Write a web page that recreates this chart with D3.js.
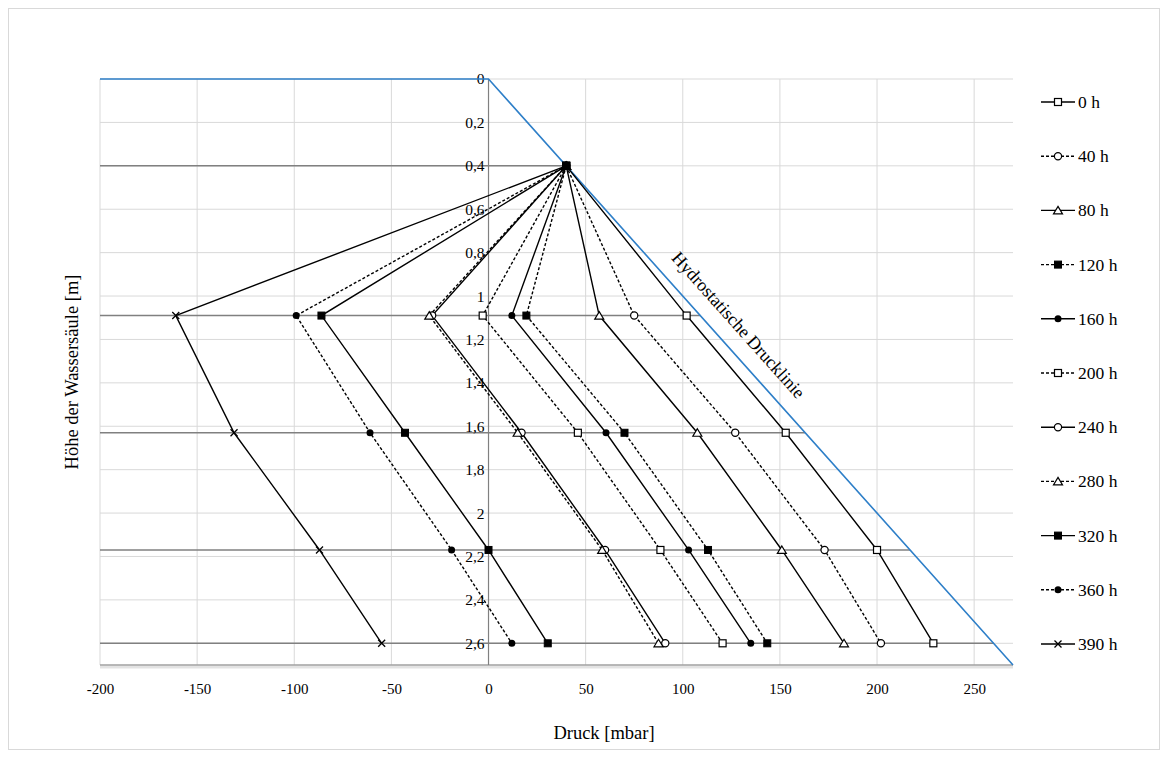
<!DOCTYPE html>
<html><head><meta charset="utf-8">
<script src="https://cdn.jsdelivr.net/npm/d3@7"></script>
<style>body{margin:0;background:#fff;}svg{display:block;}text{font-family:"Liberation Serif","Times New Roman",serif;fill:#000;}</style>
</head><body>
<svg id="chart" width="1169" height="758"></svg>
<script>
// ---- data ----
const heights = [0.4, 1.09, 1.63, 2.17, 2.6];
const seriesNames = ["0 h","40 h","80 h","120 h","160 h","200 h","240 h","280 h","320 h","360 h","390 h"];
const s0h   = [40, 102, 153, 200, 229];
const s40h  = [40, 75, 127, 173, 202];
const s80h  = [40, 57, 107.5, 151, 183];
const s120h = [40, 19.5, 70, 113, 143.5];
const s160h = [40, 12, 60.5, 103, 135];
const s200h = [40, -3, 46, 88.5, 120.5];
const s240h = [40, -29, 17, 60, 91];
const s280h = [40, -30.5, 15, 58.5, 87.5];
const s320h = [40, -86, -43, 0, 30.5];
const s360h = [40, -99, -61, -19, 12];
const s390h = [40, -161, -131, -87, -55];
const seriesValues = [s0h,s40h,s80h,s120h,s160h,s200h,s240h,s280h,s320h,s360h,s390h];
const markerTypes = ["sqOpen","cirOpen","triOpen","sqFill","cirFill","sqOpen","cirOpen","triOpen","sqFill","cirFill","cross"];
const dashed = [false,true,false,true,false,true,false,true,false,true,false];
const hydroP = [-200, 0, 270];
const hydroH = [0, 0, 2.7];
const levelH = [0.4, 1.09, 1.63, 2.17, 2.6];
const levelEnd = [40, 109, 163, 217, 260];
const xTicks = [-200,-150,-100,-50,0,50,100,150,200,250];
const yTicks = [0,0.2,0.4,0.6,0.8,1,1.2,1.4,1.6,1.8,2,2.2,2.4,2.6];
const hydroLabel = "Hydrostatische Drucklinie";

// ---- layout ----
const FONT = '"Liberation Serif","Times New Roman",serif';
const svg = d3.select("#chart");
const L = 100, R = 1013, T = 79, B = 665;
const x = d3.scaleLinear().domain([-200, 270]).range([L, R]);
const y = d3.scaleLinear().domain([0, 2.7]).range([T, B]);
const fmt = v => String(v).replace(".", ",");

svg.append("rect").attr("x",8.5).attr("y",8.5).attr("width",1151).attr("height",741)
  .attr("fill","none").attr("stroke","#d9d9d9");

// gridlines
svg.append("g").selectAll("line").data(xTicks).join("line")
  .attr("x1",d=>x(d)).attr("x2",d=>x(d)).attr("y1",T).attr("y2",B)
  .attr("stroke","#d9d9d9").attr("stroke-width",1);
svg.append("g").selectAll("line").data(yTicks).join("line")
  .attr("x1",L).attr("x2",R).attr("y1",d=>y(d)).attr("y2",d=>y(d))
  .attr("stroke","#d9d9d9").attr("stroke-width",1);

// bottom axis line with shadow
svg.append("line").attr("x1",L).attr("x2",R).attr("y1",B+2).attr("y2",B+2).attr("stroke","#e3e3e3").attr("stroke-width",3);
svg.append("line").attr("x1",L).attr("x2",R).attr("y1",B).attr("y2",B).attr("stroke","#a0a0a0").attr("stroke-width",1.5);

// y axis at x = 0
svg.append("line").attr("x1",x(0)).attr("x2",x(0)).attr("y1",T).attr("y2",B).attr("stroke","#808080").attr("stroke-width",1.2);

// level lines
svg.append("g").selectAll("line").data(levelH).join("line")
  .attr("x1",L).attr("x2",(d,i)=>x(levelEnd[i])).attr("y1",d=>y(d)).attr("y2",d=>y(d))
  .attr("stroke","#808080").attr("stroke-width",1.5);

// axis tick labels
const xAxis = d3.axisBottom(x).tickValues(xTicks).tickSize(0).tickPadding(18).tickFormat(d=>String(d));
const gx = svg.append("g").attr("transform",`translate(0,${B})`).call(xAxis);
gx.select(".domain").remove();
gx.selectAll("text").style("font-size","15px").style("font-family",FONT);

const yAxis = d3.axisLeft(y).tickValues(yTicks).tickSize(0).tickPadding(4).tickFormat(fmt);
const gy = svg.append("g").attr("transform",`translate(${x(0)},0)`).call(yAxis);
gy.select(".domain").remove();
gy.selectAll("text").style("font-size","15.5px").style("font-family",FONT);

// hydrostatic line
const hydroLine = d3.line().x(d=>x(d[0])).y(d=>y(d[1]));
svg.append("path").datum(hydroP.map((p,i)=>[p,hydroH[i]])).attr("d",hydroLine)
  .attr("fill","none").attr("stroke","#2e7fc8").attr("stroke-width",1.6);

// hydro label
const ang = Math.atan2(y(2.7)-y(0), x(270)-x(0))*180/Math.PI;
svg.append("text").attr("transform",`translate(734,329) rotate(${ang})`)
  .attr("text-anchor","middle").style("font-size","18px").style("font-family",FONT).text(hydroLabel);

// markers
function drawMarker(g, type, cx, cy){
  if(type==="sqOpen") g.append("rect").attr("x",cx-3.5).attr("y",cy-3.5).attr("width",7).attr("height",7).attr("fill","#fff").attr("stroke","#000").attr("stroke-width",1.2);
  else if(type==="sqFill") g.append("rect").attr("x",cx-3.5).attr("y",cy-3.5).attr("width",7).attr("height",7).attr("fill","#000").attr("stroke","#000").attr("stroke-width",1);
  else if(type==="cirOpen") g.append("circle").attr("cx",cx).attr("cy",cy).attr("r",3.6).attr("fill","#fff").attr("stroke","#000").attr("stroke-width",1.2);
  else if(type==="cirFill") g.append("circle").attr("cx",cx).attr("cy",cy).attr("r",3.5).attr("fill","#000");
  else if(type==="triOpen") g.append("path").attr("d",`M${cx},${cy-4}L${cx+4.5},${cy+3.5}L${cx-4.5},${cy+3.5}Z`).attr("fill","#fff").attr("stroke","#000").attr("stroke-width",1.2);
  else if(type==="cross") g.append("path").attr("d",`M${cx-3.5},${cy-3.5}L${cx+3.5},${cy+3.5}M${cx-3.5},${cy+3.5}L${cx+3.5},${cy-3.5}`).attr("stroke","#000").attr("stroke-width",1.3);
}

const line = d3.line().x(d=>x(d[0])).y(d=>y(d[1]));
seriesValues.forEach((vals,i)=>{
  const pts = vals.map((v,j)=>[v,heights[j]]);
  const g = svg.append("g");
  g.append("path").datum(pts).attr("d",line).attr("fill","none").attr("stroke","#000")
    .attr("stroke-width",1.4).attr("stroke-dasharray",dashed[i]?"3,2":null);
  pts.forEach(p=>drawMarker(g, markerTypes[i], x(p[0]), y(p[1])));
});

// legend
const lg = svg.append("g");
seriesNames.forEach((name,i)=>{
  const ly = 102 + i*54.2;
  const g = lg.append("g");
  g.append("line").attr("x1",1041).attr("x2",1075).attr("y1",ly).attr("y2",ly)
    .attr("stroke","#000").attr("stroke-width",1.4).attr("stroke-dasharray",dashed[i]?"3,2":null);
  drawMarker(g, markerTypes[i], 1058, ly);
  g.append("text").attr("x",1078).attr("y",ly+6).style("font-size","17.5px").style("font-family",FONT).text(name);
});

// axis titles
svg.append("text").attr("x",604).attr("y",739).attr("text-anchor","middle").style("font-size","18.5px").style("font-family",FONT).text("Druck [mbar]");
svg.append("text").attr("transform","translate(78,372) rotate(-90)").attr("text-anchor","middle").style("font-size","18.5px").style("font-family",FONT).text("Höhe der Wassersäule [m]");
</script>
</body></html>
